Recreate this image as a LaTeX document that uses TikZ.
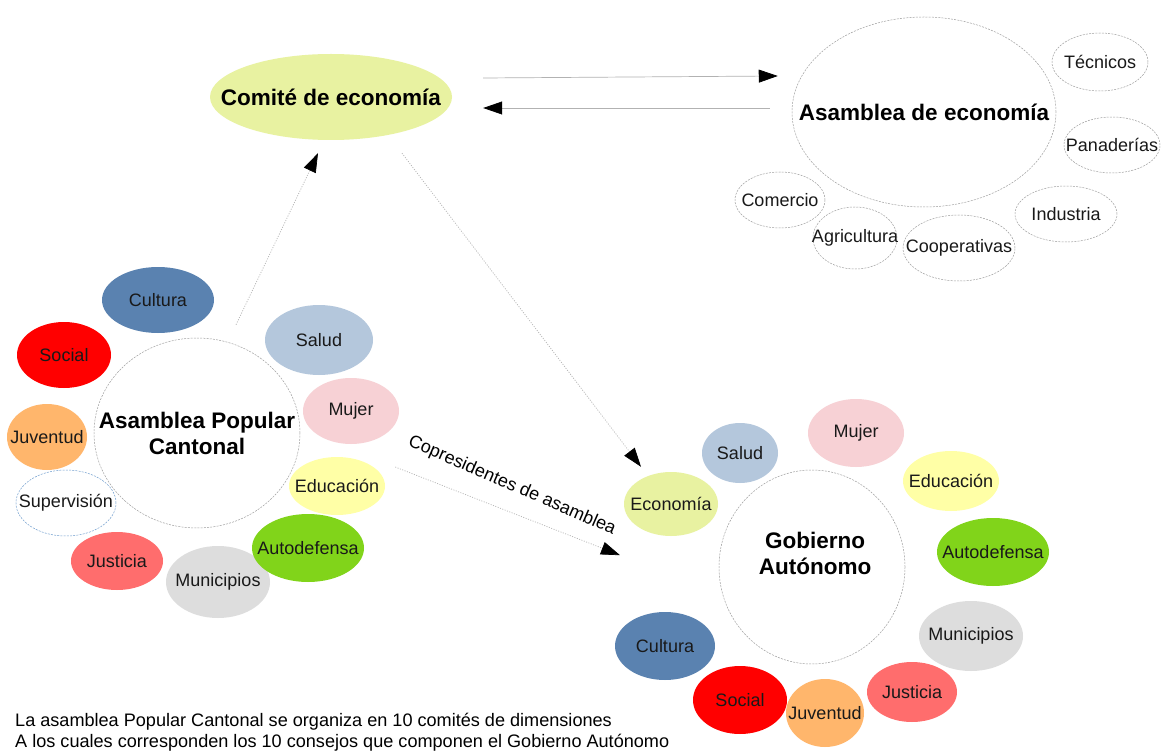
\documentclass[tikz,border=0pt]{standalone}
\usepackage{fontspec}
\setmainfont{Liberation Sans}
\usetikzlibrary{shapes.geometric,arrows.meta,calc}
\definecolor{cEcon}{HTML}{E8F2A1}
\definecolor{cCult}{HTML}{5A82B0}
\definecolor{cSoc}{HTML}{FF0000}
\definecolor{cJuv}{HTML}{FFB66C}
\definecolor{cJus}{HTML}{FF6D6D}
\definecolor{cMun}{HTML}{DDDDDD}
\definecolor{cAut}{HTML}{81D41A}
\definecolor{cEdu}{HTML}{FFFFA6}
\definecolor{cMuj}{HTML}{F7D1D5}
\definecolor{cSal}{HTML}{B4C7DC}
\definecolor{cSup}{HTML}{729FCF}
\begin{document}
\begin{tikzpicture}[x=1pt,y=-1pt,
  sz/.style n args={2}{minimum width=#1pt, minimum height=#2pt},
  lt/.style={font=\fontsize{18}{21}\selectfont, text=black!90, inner sep=0pt},
  bt/.style={font=\fontsize{22.5}{26}\selectfont\bfseries, align=center, inner sep=0pt},
  t/.style={label={[lt]center:#1}},
  tb/.style={label={[bt]center:#1}},
  bub/.style={ellipse, inner sep=0pt},
  col/.style={bub, fill=#1, draw=none},
  wb/.style={bub, fill=white, draw=gray!75, line width=0.5pt, dash pattern=on 2pt off 1.2pt},
  arr/.style={-{Triangle[length=19pt,width=13pt,black]}, draw=gray!60, line width=0.7pt},
  dotarr/.style={arr, dash pattern=on 1pt off 1.5pt}]
\useasboundingbox (0,0) rectangle (1161,751);
\fill[white] (0,0) rectangle (1161,751);

% top
\node[col=cEcon, sz={242}{86}, tb={Comité de economía}] (comite) at (331,97) {};
\node[wb, sz={264}{190}, tb={Asamblea de economía}] (asecon) at (924,112) {};
\node[wb, sz={96}{58}, t=Técnicos] (tec) at (1100,62) {};
\node[wb, sz={96}{56}, t=Panaderías] (pan) at (1112,145) {};
\node[wb, sz={102}{56}, t=Industria] (ind) at (1066,214) {};
\node[wb, sz={90}{56}, t=Comercio] (com) at (780,200) {};
\node[wb, sz={84}{62}, t=Agricultura] (agr) at (855,238) {};
\node[wb, sz={112}{66}, t=Cooperativas] (coop) at (959,248) {};

% left cluster
\node[wb, sz={206}{190}, tb={Asamblea Popular\\Cantonal}] (apc) at (197,433) {};
\node[col=cCult, sz={112}{66}, t=Cultura] (cul) at (158,300) {};
\node[col=cSoc, sz={94}{66}, t=Social] (soc) at (64,355) {};
\node[col=cJuv, sz={80}{66}, t=Juventud] (juv) at (47,437) {};
\node[bub, draw=cSup, line width=0.5pt, dash pattern=on 2pt off 1.2pt, sz={100}{66}, t=Supervisión] (sup) at (66,503) {};
\node[col=cJus, sz={92}{58}, t=Justicia] (jus) at (117,561) {};
\node[col=cMun, sz={104}{72}, t=Municipios] (mun) at (218,582) {};
\node[col=cAut, sz={112}{68}, t=Autodefensa] (aut) at (308,548) {};
\node[col=cEdu, sz={96}{58}, t=Educación] (edu) at (337,486) {};
\node[col=cMuj, sz={96}{66}, t=Mujer] (muj) at (351,411) {};
\node[col=cSal, sz={108}{70}, t=Salud] (sal) at (319,340) {};

% right cluster
\node[wb, sz={186}{194}] (gob) at (812,567) {};
\node[bt] (gobt) at (815,553) {Gobierno\\Autónomo};
\node[col=cEcon, sz={94}{64}, t=Economía] (econ) at (671,504) {};
\node[col=cSal, sz={76}{60}, t=Salud] (rsal) at (740,453) {};
\node[col=cMuj, sz={96}{68}, t=Mujer] (rmuj) at (856,433) {};
\node[col=cEdu, sz={96}{60}, t=Educación] (redu) at (951,481) {};
\node[col=cAut, sz={112}{68}, t=Autodefensa] (raut) at (993,552) {};
\node[col=cMun, sz={104}{70}, t=Municipios] (rmun) at (971,636) {};
\node[col=cJus, sz={90}{60}, t=Justicia] (rjus) at (912,692) {};
\node[col=cSoc, sz={94}{68}, t=Social] (rsoc) at (740,700) {};
\node[col=cJuv, sz={78}{68}, t=Juventud] (rjuv) at (825,713) {};
\node[col=cCult, sz={100}{68}, t=Cultura] (rcul) at (665,646) {};

% connectors
\draw[arr] ($(comite.east)+(31,-19)$) -- ($(asecon.west)+(-14,-36)$);
\draw[arr] ($(asecon.west)+(-22,-4)$) -- ($(comite.east)+(31,11)$);
\draw[dotarr] ($(apc.north)+(39,-13)$) -- ($(comite.south)+(-13,13)$);
\draw[dotarr] ($(comite.south)+(71,13)$) -- ($(econ.north)+(-30,-5)$);
\draw[dotarr] ($(apc.east)+(95,34)$) -- ($(econ.south)+(-51,19)$);
\node[rotate=-23.5, font=\fontsize{18}{21}\selectfont, inner sep=0pt] (copres) at (512,486) {Copresidentes de asamblea};

% note
\node[anchor=west, align=left, font=\fontsize{18.1}{21}\selectfont, inner sep=0pt] (nota) at (15,732)
 {La asamblea Popular Cantonal se organiza en 10 comités de dimensiones\\A los cuales corresponden los 10 consejos que componen el Gobierno Autónomo};
\end{tikzpicture}
\end{document}
